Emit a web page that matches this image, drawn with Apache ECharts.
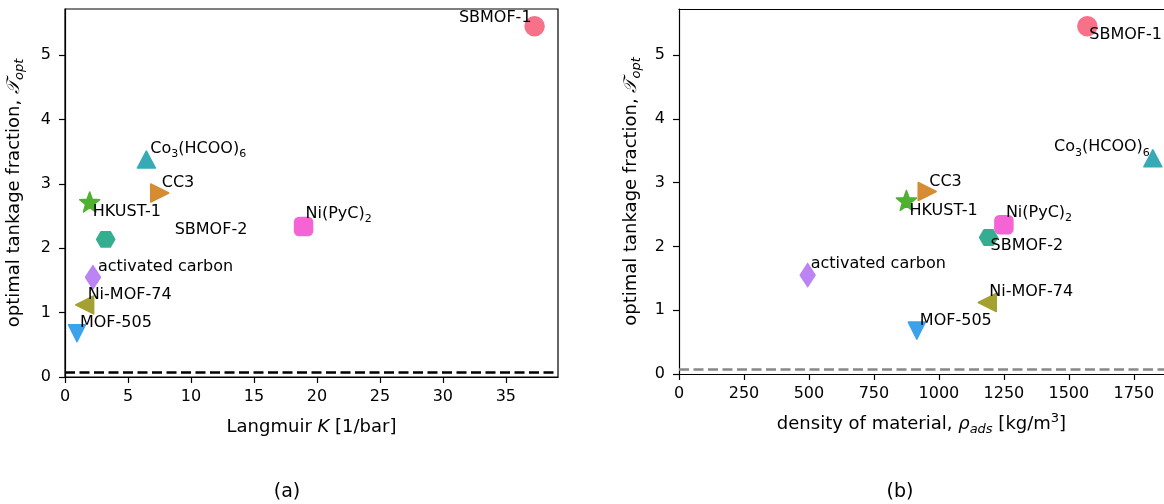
<!DOCTYPE html>
<html>
<head>
<meta charset="utf-8">
<script src="https://cdn.jsdelivr.net/npm/echarts@6/dist/echarts.min.js"></script>
<style>
  html, body { margin: 0; padding: 0; background: #fff; }
  #chart { width: 1164px; height: 504px; }
</style>
</head>
<body>
<div id="chart"></div>
<script>
// materials and their values
const materials = ['SBMOF-1', 'Co3(HCOO)6', 'CC3', 'HKUST-1', 'SBMOF-2', 'Ni(PyC)2', 'activated carbon', 'Ni-MOF-74', 'MOF-505']
const materialLabels = ['SBMOF-1', '{n|Co}{s|3}{n|(HCOO)}{s|6}', 'CC3', 'HKUST-1', 'SBMOF-2', '{n|Ni(PyC)}{s|2}', 'activated carbon', 'Ni-MOF-74', 'MOF-505']
const langmuirK = [37.28, 6.46, 7.52, 1.96, 3.23, 18.94, 2.22, 1.56, 0.95]
const density = [1571, 1823, 955, 875, 1191, 1250, 495, 1186, 915]
const tankage = [5.45, 3.38, 2.86, 2.72, 2.14, 2.34, 1.55, 1.12, 0.68]
const tankageMin = 0.08
const kTicks = [0, 5, 10, 15, 20, 25, 30, 35]
const rhoTicks = [0, 250, 500, 750, 1000, 1250, 1500, 1750]
const tTicks = [0, 1, 2, 3, 4, 5]

// styles
const colors = ['#f77189', '#37abb5', '#d58c32', '#50b131', '#34ae91', '#f564d4', '#bb83f4', '#a4a031', '#3ba3ec']

function starPath () {
  let d = ''
  for (let i = 0; i < 10; i++) {
    const r = i % 2 === 0 ? 1 : 0.42
    const a = -Math.PI / 2 + i * Math.PI / 5
    d += (i === 0 ? 'M' : 'L') + (r * Math.cos(a)).toFixed(3) + ',' + (r * Math.sin(a)).toFixed(3)
  }
  return 'path://' + d + 'Z'
}
function hexPath () {
  let d = ''
  for (let i = 0; i < 6; i++) {
    const a = i * Math.PI / 3
    d += (i === 0 ? 'M' : 'L') + Math.cos(a).toFixed(3) + ',' + Math.sin(a).toFixed(3)
  }
  return 'path://' + d + 'Z'
}
const symbols = [
  'circle',
  'triangle',
  'path://M0,0L2,1L0,2Z',
  starPath(),
  hexPath(),
  'roundRect',
  'diamond',
  'path://M2,0L0,1L2,2Z',
  'path://M0,0L2,0L1,2Z'
]
const symbolSizes = [19, [18, 17], [18, 18], 20, [18, 15.5], 18, [15, 23], [18, 18], [17, 17]]

// label placement [dx, dy, align] per plot
const labelsK = [[-3, -9, 'right'], [4, -11, 'left'], [2, -10, 'left'], [3, 10, 'left'], [69, -9, 'left'],
  [2, -13, 'left'], [5, -10, 'left'], [3, -10, 'left'], [3, -10, 'left']]
const labelsRho = [[2, 9, 'left'], [-3, -11, 'right'], [2, -10, 'left'], [3, 10, 'left'], [2, 8, 'left'],
  [2, -12, 'left'], [3, -11, 'left'], [2, -11, 'left'], [3, -10, 'left']]

const font = 'DejaVu Sans'
const richText = {
  n: { fontFamily: font, fontSize: 16, color: '#000', lineHeight: 22 },
  s: { fontFamily: font, fontSize: 11, color: '#000', lineHeight: 11, verticalAlign: 'bottom' }
}
const nameRich = {
  n: { fontFamily: font, fontSize: 18, color: '#000', lineHeight: 24 },
  i: { fontFamily: font, fontSize: 18, color: '#000', lineHeight: 24, fontStyle: 'italic' },
  is: { fontFamily: font, fontSize: 13, color: '#000', lineHeight: 13, fontStyle: 'italic', verticalAlign: 'bottom' },
  sup: { fontFamily: font, fontSize: 13, color: '#000', lineHeight: 13, verticalAlign: 'top' }
}
const axisLineStyle = { color: '#000', width: 1.2 }

function makeAxisX (idx, max, ticks, name, gap) {
  return {
    type: 'value',
    gridIndex: idx,
    min: 0,
    max: max,
    name: name,
    nameLocation: 'middle',
    nameGap: gap,
    nameTextStyle: { rich: nameRich },
    axisLine: { show: true, onZero: false, lineStyle: axisLineStyle },
    axisTick: { show: true, length: 6, customValues: ticks, lineStyle: axisLineStyle },
    axisLabel: { customValues: ticks, margin: 12, fontFamily: font, fontSize: 16, color: '#000', formatter: v => String(v) },
    splitLine: { show: false }
  }
}
// plain top spine
function makeTopSpine (idx, max) {
  return {
    type: 'value',
    gridIndex: idx,
    position: 'top',
    min: 0,
    max: max,
    axisLine: { show: true, onZero: false, lineStyle: axisLineStyle },
    axisTick: { show: false },
    axisLabel: { show: false },
    splitLine: { show: false }
  }
}
function makeAxisY (idx, gap) {
  return {
    type: 'value',
    gridIndex: idx,
    min: 0,
    max: 5.72,
    name: '{n|optimal tankage fraction, }{i|\uD835\uDCAF}{is|opt}',
    nameLocation: 'middle',
    nameRotate: 90,
    nameGap: gap,
    nameTextStyle: { rich: nameRich },
    axisLine: { show: true, onZero: false, lineStyle: axisLineStyle },
    axisTick: { show: true, length: 6, customValues: tTicks, lineStyle: axisLineStyle },
    axisLabel: { customValues: tTicks, margin: 14, fontFamily: font, fontSize: 16, color: '#000', formatter: v => String(v) },
    splitLine: { show: false }
  }
}

const series = []
function addSeries (gridIdx, xs, labelPos, lineColor) {
  materials.forEach((m, i) => {
    const lp = labelPos[i]
    const s = {
      name: m,
      type: 'scatter',
      xAxisIndex: gridIdx,
      yAxisIndex: gridIdx,
      symbol: symbols[i],
      symbolSize: symbolSizes[i],
      itemStyle: { color: colors[i], opacity: 1, borderColor: colors[i], borderWidth: 1.5, borderJoin: 'round' },
      label: {
        show: true,
        position: 'inside',
        align: lp[2],
        verticalAlign: 'middle',
        offset: [lp[0], lp[1]],
        formatter: () => materialLabels[i].indexOf('{') === 0 ? materialLabels[i] : '{n|' + materialLabels[i] + '}',
        rich: richText
      },
      emphasis: { disabled: true },
      z: 3,
      data: [[xs[i], tankage[i]]]
    }
    if (i === 0) {
      s.markLine = {
        silent: true,
        symbol: 'none',
        label: { show: false },
        lineStyle: { type: [10, 4.5], color: lineColor, width: 2.5 },
        data: [{ yAxis: tankageMin }]
      }
    }
    series.push(s)
  })
}
addSeries(0, langmuirK, labelsK, '#000')
addSeries(1, density, labelsRho, '#888')

const mychart = echarts.init(document.getElementById('chart'))
const option = {
  animation: false,
  title: [
    { text: '(a)', left: 282, top: 478, textAlign: 'center', textStyle: { fontFamily: font, fontSize: 19, fontWeight: 'normal', color: '#000' } },
    { text: '(b)', left: 895, top: 478, textAlign: 'center', textStyle: { fontFamily: font, fontSize: 19, fontWeight: 'normal', color: '#000' } }
  ],
  grid: [
    { left: 65, top: 9, width: 493, height: 368, show: true, borderColor: '#000', borderWidth: 1.2, containLabel: false },
    { left: 679, top: 9, right: 0, height: 365, show: false, containLabel: false }
  ],
  xAxis: [
    makeAxisX(0, 39.14, kTicks, '{n|Langmuir }{i|K}{n| [1/bar]}', 38),
    makeAxisX(1, 1866, rhoTicks, '{n|density of material, }{i|\u03C1}{is|ads}{n| [kg/m}{sup|3}{n|]}', 38),
    makeTopSpine(1, 1866)
  ],
  yAxis: [makeAxisY(0, 39), makeAxisY(1, 36)],
  series: series
}
mychart.setOption(option)
window.addEventListener('resize', function () {
  mychart.resize()
})
</script>
</body>
</html>
